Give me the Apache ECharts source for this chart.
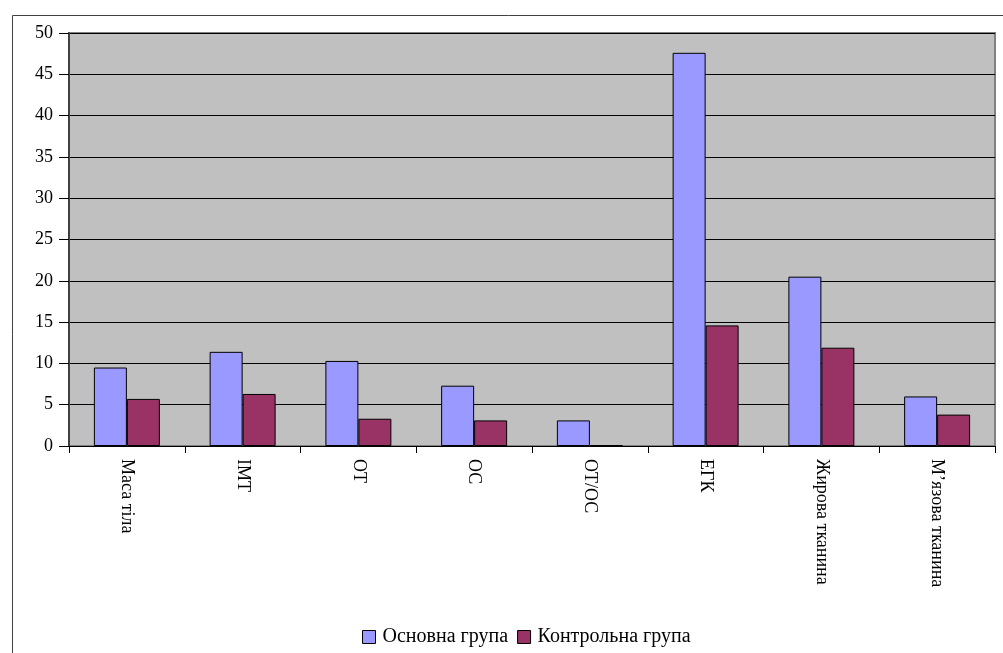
<!DOCTYPE html>
<html>
  <head>
    <meta charset="utf-8" />
  </head>
  <body style="margin:0;background:#fff;">
  <div id="main" style="width: 1003px;height:653px;"></div>

  <script type="text/javascript" src="https://cdn.jsdelivr.net/npm/echarts@6/dist/echarts.min.js"></script>
  <script type="text/javascript">
      // дані
      var categories = ['Маса тіла', 'ІМТ', 'ОТ', 'ОС', 'ОТ/ОС', 'ЕГК', 'Жирова тканина', 'М\u2019язова тканина'];
      var mainGroup = [9.5, 11.4, 10.3, 7.3, 3.1, 47.6, 20.5, 6.0];
      var controlGroup = [5.7, 6.3, 3.3, 3.1, 0.1, 14.6, 11.9, 3.8];
      var seriesNames = ['Основна група', 'Контрольна група'];

      var font = 'Liberation Serif';
      var myChart = echarts.init(document.getElementById('main'));

      var option = {
        animation: false,
        textStyle: { fontFamily: font },
        graphic: [{
          type: 'rect',
          left: 10, top: 13,
          shape: { width: 1010, height: 700 },
          style: { fill: 'none', stroke: '#404040', lineWidth: 1 },
          silent: true
        }],
        grid: {
          left: 69, right: 8, top: 33, bottom: 207,
          show: true,
          backgroundColor: '#C0C0C0',
          borderColor: '#808080',
          borderWidth: 2
        },
        legend: {
          data: seriesNames,
          top: 622,
          left: 357,
          icon: 'rect',
          itemWidth: 13,
          itemHeight: 13,
          itemGap: 9,
          itemStyle: { borderColor: '#000', borderWidth: 1 },
          textStyle: { fontFamily: font, fontSize: 20, color: '#000', padding: [0, 0, 0, 2] }
        },
        xAxis: {
          type: 'category',
          data: categories,
          axisLine: { lineStyle: { color: '#000', width: 1 } },
          axisTick: { show: true, length: 7, lineStyle: { color: '#000' } },
          axisLabel: {
            rotate: -90,
            interval: 0,
            margin: 13,
            fontFamily: font,
            fontSize: 18,
            color: '#000'
          }
        },
        yAxis: {
          type: 'value',
          min: 0, max: 50, interval: 5,
          axisLine: { show: true, lineStyle: { color: '#404040', width: 2 } },
          axisTick: { show: true, length: 10, lineStyle: { color: '#000' } },
          axisLabel: { fontFamily: font, fontSize: 18, color: '#000', margin: 16 },
          splitLine: { lineStyle: { color: '#000', width: 1 } }
        },
        series: [
          {
            name: seriesNames[0],
            type: 'bar',
            data: mainGroup,
            barWidth: '28.5%',
            barGap: '0%',
            itemStyle: { color: '#9999FF', borderColor: '#000', borderWidth: 1 }
          },
          {
            name: seriesNames[1],
            type: 'bar',
            data: controlGroup,
            barWidth: '28.5%',
            itemStyle: { color: '#993366', borderColor: '#000', borderWidth: 1 }
          }
        ]
      };

      myChart.setOption(option);
    </script>
</body>
</html>
